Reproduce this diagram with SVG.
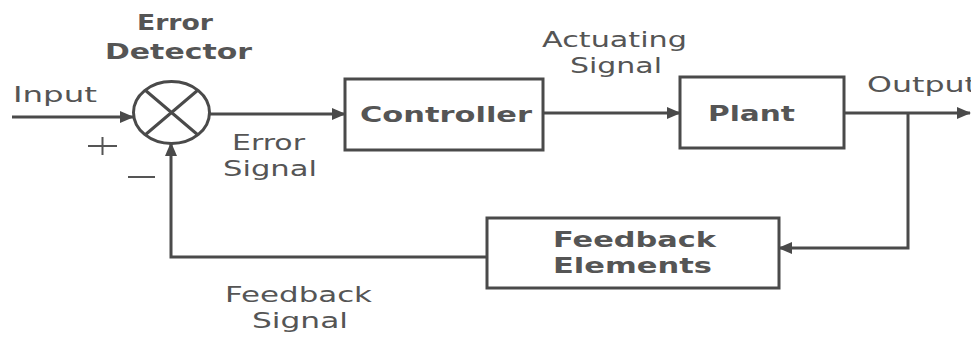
<svg xmlns="http://www.w3.org/2000/svg" width="971" height="337" viewBox="0 0 971 337">
<style>
.ln{fill:none;stroke:#4a4a4a;stroke-width:3}
.bx{fill:#fff;stroke:#4a4a4a;stroke-width:3}
.t{font-family:"DejaVu Sans",Verdana,sans-serif;font-size:21px;fill:#555}
.b{font-weight:bold}
</style>
<defs>
<marker id="ah" markerWidth="14" markerHeight="12" refX="13" refY="6" orient="auto" markerUnits="userSpaceOnUse">
<path d="M0,0 L14,6 L0,12 Z" fill="#4a4a4a"/>
</marker>
</defs>
<rect width="971" height="337" fill="#fff"/>
<g id="connectors">
<path class="ln" d="M12,117 L133,117" marker-end="url(#ah)"/>
<path class="ln" d="M210,114 L345,114" marker-end="url(#ah)"/>
<path class="ln" d="M543,113 L680,113" marker-end="url(#ah)"/>
<path class="ln" d="M844,113 L970,113" marker-end="url(#ah)"/>
<path class="ln" d="M908,113 L908,248 L779,248" marker-end="url(#ah)"/>
<path class="ln" d="M487,257 L171,257 L171,143" marker-end="url(#ah)"/>
</g>
<g id="error-detector">
<ellipse cx="171.5" cy="112.5" rx="38" ry="31" class="bx"/>
<path class="ln" d="M145,90 L198,135 M198,90 L145,135" stroke-width="2"/>
<text class="t b" x="137" y="30" textLength="76" lengthAdjust="spacingAndGlyphs">Error</text>
<text class="t b" x="105" y="59" textLength="147" lengthAdjust="spacingAndGlyphs">Detector</text>
</g>
<g id="controller">
<rect class="bx" x="345" y="79" width="198" height="71"/>
<text class="t b" x="360" y="122" textLength="172" lengthAdjust="spacingAndGlyphs">Controller</text>
</g>
<g id="plant">
<rect class="bx" x="680" y="77" width="164" height="71"/>
<text class="t b" x="708" y="121" textLength="87" lengthAdjust="spacingAndGlyphs">Plant</text>
</g>
<g id="feedback-elements">
<rect class="bx" x="487" y="218" width="292" height="70"/>
<text class="t b" x="553" y="247" textLength="163" lengthAdjust="spacingAndGlyphs">Feedback</text>
<text class="t b" x="553" y="273" textLength="159" lengthAdjust="spacingAndGlyphs">Elements</text>
</g>
<g id="labels">
<text class="t" x="13" y="102" textLength="84" lengthAdjust="spacingAndGlyphs">Input</text>
<path d="M88,146 L117,146 M102.5,137 L102.5,155" stroke="#555" stroke-width="2" fill="none"/>
<path d="M128,177 L155,177" stroke="#555" stroke-width="2" fill="none"/>
<text class="t" x="232" y="150" textLength="73" lengthAdjust="spacingAndGlyphs">Error</text>
<text class="t" x="223" y="176" textLength="94" lengthAdjust="spacingAndGlyphs">Signal</text>
<text class="t" x="542" y="47" textLength="145" lengthAdjust="spacingAndGlyphs">Actuating</text>
<text class="t" x="570" y="73" textLength="92" lengthAdjust="spacingAndGlyphs">Signal</text>
<text class="t" x="867" y="92" textLength="110" lengthAdjust="spacingAndGlyphs">Output</text>
<text class="t" x="225" y="302" textLength="147" lengthAdjust="spacingAndGlyphs">Feedback</text>
<text class="t" x="252" y="328" textLength="96" lengthAdjust="spacingAndGlyphs">Signal</text>
</g>
</svg>
